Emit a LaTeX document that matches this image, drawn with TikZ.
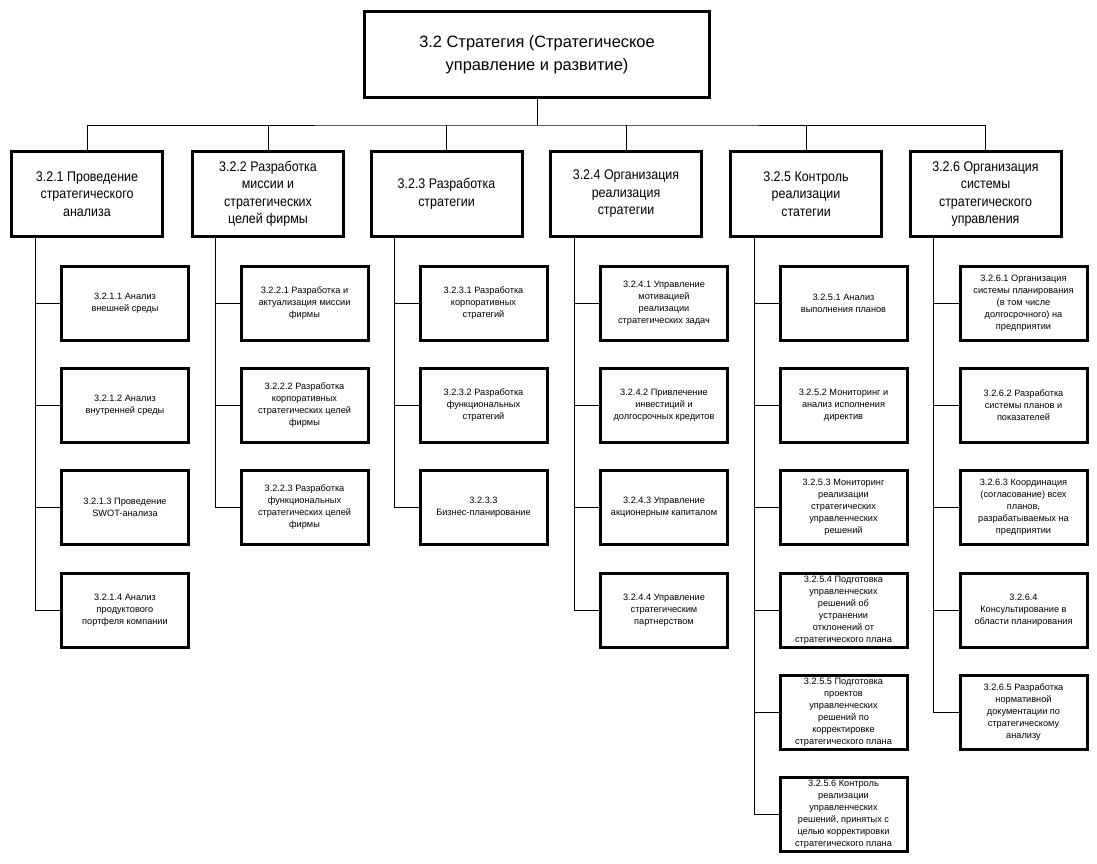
\documentclass[tikz,border=0pt]{standalone}
\usepackage{fontspec}
\setmainfont{Liberation Sans}
\newfontfamily\narrowfont[FakeStretch=0.89]{Liberation Sans}
\usepackage{tikz}

\begin{document}
\begin{tikzpicture}[x=0.75pt,y=-0.75pt]
 \tikzset{box/.style={draw,line width=2.25pt,align=center,inner sep=1pt},
  mainbox/.style={box,minimum width=258.75pt,minimum height=64.3pt,font=\fontsize{12.3}{17.25}\selectfont},
  headbox/.style={box,minimum width=113.25pt,minimum height=63.75pt,font=\narrowfont\fontsize{10.5}{13.1}\selectfont},
  taskbox/.style={box,minimum width=95.25pt,minimum height=55.5pt,font=\fontsize{6.9}{9}\selectfont},
  link/.style={line width=0.7pt}}
 \useasboundingbox (0,0) rectangle (1097,864);

 \node[mainbox] (top) at (537,54.3) {3.2 Стратегия (Стратегическое\\управление и развитие)};

 \node[headbox] (h1) at (87,194) {3.2.1 Проведение\\стратегического\\анализа};
 \node[headbox] (h2) at (268,194) {3.2.2 Разработка\\миссии и\\стратегических\\целей фирмы};
 \node[headbox] (h3) at (446.5,194) {3.2.3 Разработка\\стратегии};
 \node[headbox] (h4) at (626,194) {3.2.4 Организация\\реализация\\стратегии};
 \node[headbox] (h5) at (806,194) {3.2.5 Контроль\\реализации\\статегии};
 \node[headbox] (h6) at (985.5,194) {3.2.6 Организация\\системы\\стратегического\\управления};

 \node[taskbox] (t11) at (125,303.5) {3.2.1.1 Анализ\\внешней среды};
 \node[taskbox] (t12) at (125,405.5) {3.2.1.2 Анализ\\внутренней среды};
 \node[taskbox] (t13) at (125,507.5) {3.2.1.3 Проведение\\SWOT-анализа};
 \node[taskbox] (t14) at (125,610) {3.2.1.4 Анализ\\продуктового\\портфеля компании};

 \node[taskbox] (t21) at (304.5,303.5) {3.2.2.1 Разработка и\\актуализация миссии\\фирмы};
 \node[taskbox] (t22) at (304.5,405.5) {3.2.2.2 Разработка\\корпоративных\\стратегических целей\\фирмы};
 \node[taskbox] (t23) at (304.5,507.5) {3.2.2.3 Разработка\\функциональных\\стратегических целей\\фирмы};

 \node[taskbox] (t31) at (483.5,303.5) {3.2.3.1 Разработка\\корпоративных\\стратегий};
 \node[taskbox] (t32) at (483.5,405.5) {3.2.3.2 Разработка\\функциональных\\стратегий};
 \node[taskbox] (t33) at (483.5,507.5) {3.2.3.3\\Бизнес-планирование};

 \node[taskbox] (t41) at (664,303.5) {3.2.4.1 Управление\\мотивацией\\реализации\\стратегических задач};
 \node[taskbox] (t42) at (664,405.5) {3.2.4.2 Привлечение\\инвестиций и\\долгосрочных кредитов};
 \node[taskbox] (t43) at (664,507.5) {3.2.4.3 Управление\\акционерным капиталом};
 \node[taskbox] (t44) at (664,610) {3.2.4.4 Управление\\стратегическим\\партнерством};

 \node[taskbox] (t51) at (843.5,303.5) {3.2.5.1 Анализ\\выполнения планов};
 \node[taskbox] (t52) at (843.5,405.5) {3.2.5.2 Мониторинг и\\анализ исполнения\\директив};
 \node[taskbox] (t53) at (843.5,507.5) {3.2.5.3 Мониторинг\\реализации\\стратегических\\управленческих\\решений};
 \node[taskbox] (t54) at (843.5,610) {3.2.5.4 Подготовка\\управленческих\\решений об\\устранении\\отклонений от\\стратегического плана};
 \node[taskbox] (t55) at (843.5,712.3) {3.2.5.5 Подготовка\\проектов\\управленческих\\решений по\\корректировке\\стратегического плана};
 \node[taskbox] (t56) at (843.5,814.5) {3.2.5.6 Контроль\\реализации\\управленческих\\решений, принятых с\\целью корректировки\\стратегического плана};

 \node[taskbox] (t61) at (1023.5,303.5) {3.2.6.1 Организация\\системы планирования\\(в том числе\\долгосрочного) на\\предприятии};
 \node[taskbox] (t62) at (1023.5,405.5) {3.2.6.2 Разработка\\системы планов и\\показателей};
 \node[taskbox] (t63) at (1023.5,507.5) {3.2.6.3 Координация\\(согласование) всех\\планов,\\разрабатываемых на\\предприятии};
 \node[taskbox] (t64) at (1023.5,610) {3.2.6.4\\Консультирование в\\области планирования};
 \node[taskbox] (t65) at (1023.5,712.3) {3.2.6.5 Разработка\\нормативной\\документации по\\стратегическому\\анализу};

 \coordinate (bus) at (537,125);
 \coordinate (k1) at (35,0);
 \coordinate (k2) at (215,0);
 \coordinate (k3) at (394,0);
 \coordinate (k4) at (574,0);
 \coordinate (k5) at (754,0);
 \coordinate (k6) at (933,0);

 \draw[link] (top) -- (bus);
 \draw[link] (h1) |- (bus) -| (h6);
 \draw[link] (h2) -- (h2 |- bus);
 \draw[link] (h3) -- (h3 |- bus);
 \draw[link] (h4) -- (h4 |- bus);
 \draw[link] (h5) -- (h5 |- bus);

 \draw[link] (h1.south -| k1) |- (t14);
 \draw[link] (t11) -- (t11 -| k1);
 \draw[link] (t12) -- (t12 -| k1);
 \draw[link] (t13) -- (t13 -| k1);

 \draw[link] (h2.south -| k2) |- (t23);
 \draw[link] (t21) -- (t21 -| k2);
 \draw[link] (t22) -- (t22 -| k2);

 \draw[link] (h3.south -| k3) |- (t33);
 \draw[link] (t31) -- (t31 -| k3);
 \draw[link] (t32) -- (t32 -| k3);

 \draw[link] (h4.south -| k4) |- (t44);
 \draw[link] (t41) -- (t41 -| k4);
 \draw[link] (t42) -- (t42 -| k4);
 \draw[link] (t43) -- (t43 -| k4);

 \draw[link] (h5.south -| k5) |- (t56);
 \draw[link] (t51) -- (t51 -| k5);
 \draw[link] (t52) -- (t52 -| k5);
 \draw[link] (t53) -- (t53 -| k5);
 \draw[link] (t54) -- (t54 -| k5);
 \draw[link] (t55) -- (t55 -| k5);

 \draw[link] (h6.south -| k6) |- (t65);
 \draw[link] (t61) -- (t61 -| k6);
 \draw[link] (t62) -- (t62 -| k6);
 \draw[link] (t63) -- (t63 -| k6);
 \draw[link] (t64) -- (t64 -| k6);
\end{tikzpicture}
\end{document}
